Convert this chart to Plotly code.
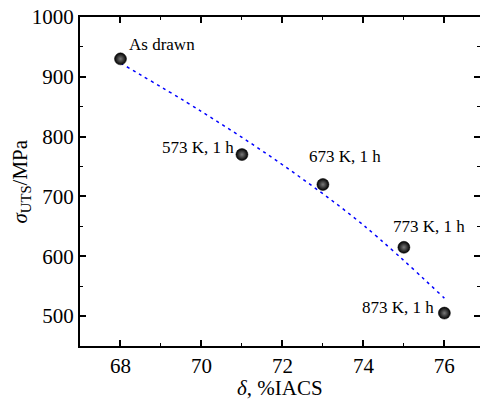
import plotly.graph_objects as go

# Data
conductivity = [68, 71, 73, 75, 76]
uts = [930, 770, 720, 615, 505]
labels = ["As drawn", "573 K, 1 h", "673 K, 1 h", "773 K, 1 h", "873 K, 1 h"]

# fitted trend line
fit_x = [68, 70, 72, 74, 76]
fit_y = [923, 842, 753, 652, 530]

FONT = "Liberation Serif"

fig = go.Figure()
fig.add_trace(go.Scatter(
    x=fit_x, y=fit_y, mode="lines", line=dict(color="#0000ff", width=1.5, dash="3px,4px", shape="spline"),
    hoverinfo="skip", showlegend=False))
fig.add_trace(go.Scatter(
    x=conductivity, y=uts, mode="markers",
    marker=dict(size=12, color="#000000", gradient=dict(type="radial", color="#7a7a7a"),
                line=dict(width=0.5, color="black")),
    showlegend=False))

# label offsets (xanchor, xshift, yshift)
label_pos = [("left", 7, 14), ("right", -6, 7), ("center", 22, 28), ("center", 25, 21), ("right", -8, 6)]
for x, y, t, (xa, xs, ys) in zip(conductivity, uts, labels, label_pos):
    fig.add_annotation(x=x, y=y, text=t, showarrow=False, xanchor=xa, yanchor="middle",
                       xshift=xs, yshift=ys, font=dict(family=FONT, size=17, color="black"))

# axis titles
fig.add_annotation(xref="paper", yref="paper", x=0.5, y=-0.128, text="<i>δ</i>, %IACS",
                   showarrow=False, xanchor="center", yanchor="middle",
                   font=dict(family=FONT, size=21, color="black"))
fig.add_annotation(xref="paper", yref="paper", x=-0.15, y=0.5, text="<i>σ</i><sub>UTS</sub>/MPa",
                   showarrow=False, xanchor="center", yanchor="middle", textangle=-90,
                   font=dict(family=FONT, size=21, color="black"))

axis_common = dict(showgrid=False, zeroline=False, showline=True, linecolor="black", linewidth=2,
                   ticks="inside", ticklen=6, tickwidth=1.5, tickcolor="black", mirror="ticks",
                   automargin=False,
                   tickfont=dict(family=FONT, size=21, color="black"))

fig.update_xaxes(range=[67, 76.88], tickvals=[68, 70, 72, 74, 76],
                 minor=dict(tickvals=[67, 69, 71, 73, 75], ticks="inside", ticklen=3, tickwidth=1.2, tickcolor="black"),
                 **axis_common)
fig.update_yaxes(range=[450, 1000], tickvals=[500, 600, 700, 800, 900, 1000],
                 minor=dict(tickvals=[550, 650, 750, 850, 950], ticks="inside", ticklen=3, tickwidth=1.2, tickcolor="black"),
                 **axis_common)

fig.update_layout(width=480, height=399, margin=dict(l=80, r=0, t=17, b=53),
                  plot_bgcolor="white", paper_bgcolor="white", font=dict(family=FONT))

fig.write_html("out.html", config={"displayModeBar": False},
               post_script="document.body.style.margin='0';document.body.style.overflow='hidden';")
